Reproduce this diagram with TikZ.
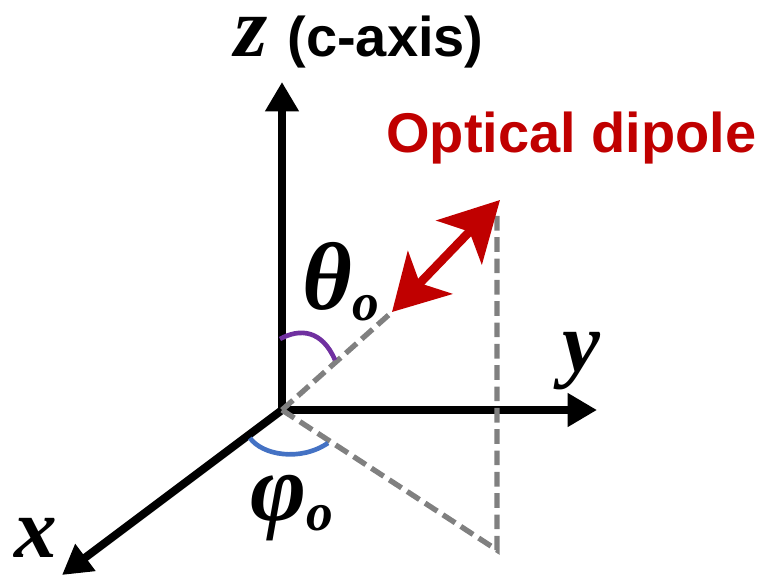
\documentclass[tikz,border=0pt]{standalone}
\usepackage{fontspec}
\setmainfont{Liberation Sans}
\newfontfamily\lblfont{Liberation Serif}
\usetikzlibrary{arrows.meta}
\definecolor{dipred}{HTML}{C00000}
\definecolor{dashgray}{HTML}{808080}
\definecolor{thetapurple}{HTML}{7030A0}
\definecolor{phiblue}{HTML}{4472C4}
\newcommand{\lowidx}[1]{\raisebox{-8pt}{\fontsize{40}{40}\selectfont #1}}

\begin{document}
\begin{tikzpicture}[
  x=0.75pt, y=-0.75pt,
  axis/.style={line width=6pt, -{Triangle[length=22pt,width=24pt]}},
  dashln/.style={draw=dashgray, line width=4pt, dash pattern=on 11pt off 5pt},
  anglearc/.style={line width=3.5pt},
  dipole/.style={draw=dipred, line width=6.5pt, {Stealth[length=41pt,width=46pt,inset=11pt]}-{Stealth[length=44pt,width=47pt,inset=11pt]}},
  lbl/.style={inner sep=0pt, anchor=base west, font=\lblfont\bfseries\itshape\fontsize{64}{64}\selectfont},
  grk/.style={lbl, font=\lblfont\bfseries\itshape\fontsize{72}{72}\selectfont},
  txt/.style={inner sep=0pt, anchor=base west, font=\bfseries\fontsize{42}{48}\selectfont}
]
\useasboundingbox (0,0) rectangle (763,580);

% axes
\coordinate (O) at (282,410);
\coordinate (zTip) at (282,82);
\coordinate (yTip) at (597,410);
\coordinate (xTip) at (62,575);
\draw[axis] (O) -- (zTip);
\draw[axis] (O) -- (yTip);
\draw[axis] (O) -- (xTip);

% dipole and its projection
\coordinate (dipLo) at (392,312);
\coordinate (dipHi) at (500,200);
\coordinate (projTop) at (497,213);
\coordinate (projFoot) at (497,550);
\draw[dashln] (O) -- (dipLo);
\draw[dashln] (O) -- (projFoot) -- (projTop);
\draw[dipole] (dipLo) -- (dipHi);

% angles
\coordinate (thA) at (280,339);
\coordinate (thB) at (335,360);
\coordinate (phA) at (250,438);
\coordinate (phB) at (328,443);
\draw[anglearc, thetapurple] (thA) .. controls (300,328) and (322,330) .. (thB);
\draw[anglearc, phiblue] (phA) .. controls (262,455) and (300,462) .. (phB);

% labels
\node[txt] (zlabel) at (234,57) {{\lblfont\bfseries\itshape\fontsize{64}{64}\selectfont z}\hspace{15pt}(c-axis)};
\node[txt, text=dipred] (diplabel) at (386,153) {Optical dipole};
\node[grk] (thlabel) at (302,310) {θ\lowidx{o}};
\node[lbl] (ylabel) at (562,372) {y};
\node[lbl] (xlabel) at (14,557) {x};
\node[grk] (phlabel) at (250,520) {φ\lowidx{o}};
\end{tikzpicture}
\end{document}
